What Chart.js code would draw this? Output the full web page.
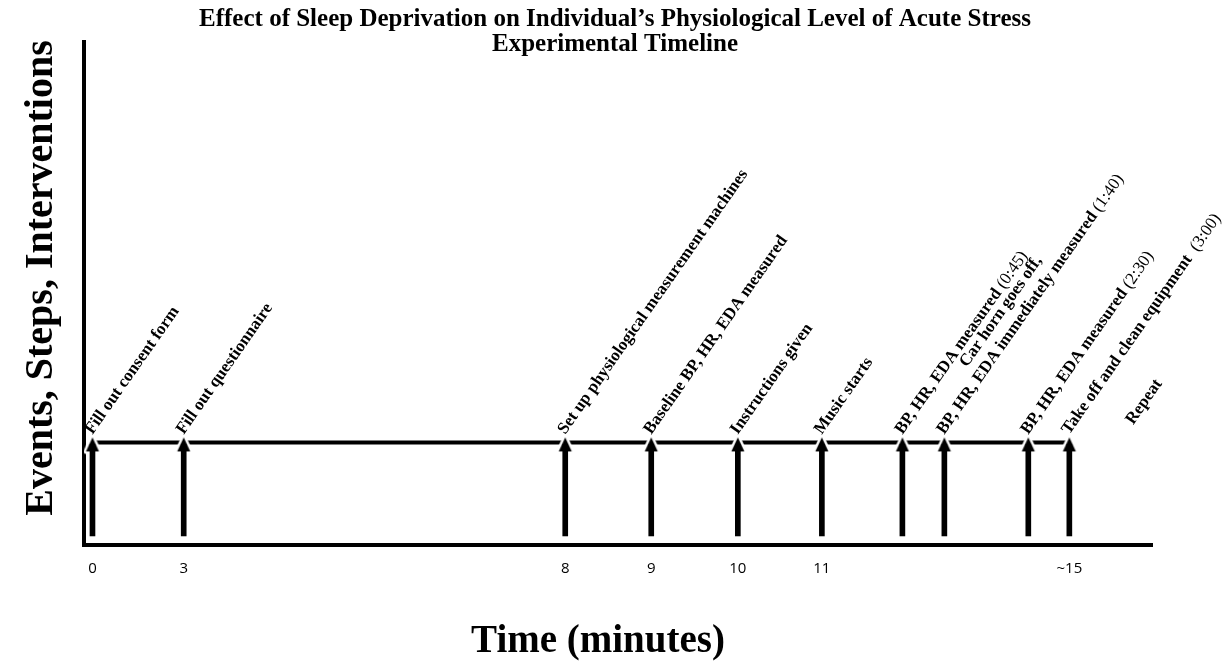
<!DOCTYPE html>
<html>
<head>
<meta charset="utf-8">
<script src="https://cdn.jsdelivr.net/npm/chart.js@4.4.1/dist/chart.umd.min.js"></script>
<style>
  html, body { margin: 0; padding: 0; background: #fff; }
  #wrap { width: 1226px; height: 664px; position: relative; }
</style>
</head>
<body>
<div id="wrap"><canvas id="timeline"></canvas></div>
<script>
// events on the timeline, position = where the arrow sits along the drawn axis
const eventText = [
  'Fill out consent form',
  'Fill out questionnaire',
  'Set up physiological measurement machines',
  'Baseline BP, HR, EDA measured',
  'Instructions given',
  'Music starts',
  'BP, HR, EDA measured',
  'BP, HR, EDA immediately measured',
  'BP, HR, EDA measured',
  'Take off and clean equipment'
];
const eventTime = ['', '', '', '', '', '', ' (0:45)', ' (1:40)', ' (2:30)', '  (3:00)'];
const eventNote = ['', '', '', '', '', '', '', 'Car horn goes off,', '', ''];
const eventPos = [0, 1.065, 5.519, 6.523, 7.534, 8.515, 9.455, 9.945, 10.925, 11.404];

const tickPos = [0, 1.065, 5.519, 6.523, 7.534, 8.515, 11.404];
const tickLabels = ['0', '3', '8', '9', '10', '11', '~15'];

const repeatText = 'Repeat';
const repeatPos = 12.15;

const mainTitle = ['Effect of Sleep Deprivation on Individual\u2019s Physiological Level of Acute Stress', 'Experimental Timeline'];
const xTitle = 'Time (minutes)';
const yTitle = 'Events, Steps, Interventions';

// vertical levels on the hidden y scale (0..5)
const LINE_Y = 1.02;
const HEAD_Y = 1.0;
const BASE_Y = 0.09;
const LABEL_Y = 1.093;
const REPEAT_Y = 1.19;

const SERIF = '"Liberation Serif", "Times New Roman", serif';
const ANGLE = 55 * Math.PI / 180;
const LABEL_DX = 0;

// arrow head with a thin white halo so the timeline looks broken around it
function arrowHead() {
  const c = document.createElement('canvas');
  c.width = 24; c.height = 24;
  const g = c.getContext('2d');
  g.beginPath();
  g.moveTo(12, 5);
  g.lineTo(18.5, 19);
  g.lineTo(5.5, 19);
  g.closePath();
  g.lineJoin = 'round';
  g.strokeStyle = '#fff';
  g.lineWidth = 5;
  g.stroke();
  g.fillStyle = '#000';
  g.fill();
  return c;
}

const textLayer = {
  id: 'textLayer',
  afterDatasetsDraw(chart) {
    const {ctx, scales: {x, y}} = chart;
    const bold = 'bold 17px ' + SERIF;
    const plain = '17px ' + SERIF;
    ctx.save();
    ctx.fillStyle = '#000';
    ctx.textAlign = 'left';
    ctx.textBaseline = 'alphabetic';

    eventText.forEach((txt, i) => {
      ctx.save();
      ctx.translate(x.getPixelForValue(eventPos[i]) + LABEL_DX, y.getPixelForValue(LABEL_Y));
      ctx.rotate(-ANGLE);
      ctx.font = bold;
      ctx.fillText(txt, 0, 0);
      const w = ctx.measureText(txt).width;
      if (eventNote[i]) {
        const w1 = ctx.measureText(eventNote[i]).width;
        ctx.fillText(eventNote[i], (w - w1) / 2, -20);
      }
      if (eventTime[i]) {
        ctx.font = plain;
        ctx.fillText(eventTime[i], w, 0);
      }
      ctx.restore();
    });

    ctx.save();
    ctx.translate(x.getPixelForValue(repeatPos) + LABEL_DX, y.getPixelForValue(REPEAT_Y));
    ctx.rotate(-ANGLE);
    ctx.font = bold;
    ctx.fillText(repeatText, 0, 0);
    ctx.restore();

    // titles
    ctx.textAlign = 'center';
    ctx.font = 'bold 25px ' + SERIF;
    ctx.fillText(mainTitle[0], 615, 26);
    ctx.fillText(mainTitle[1], 615, 51);

    ctx.font = 'bold 39px ' + SERIF;
    ctx.fillText(xTitle, 598, 652);

    ctx.save();
    ctx.translate(52, 278);
    ctx.rotate(-Math.PI / 2);
    ctx.font = 'bold 40px ' + SERIF;
    ctx.fillText(yTitle, 0, 0);
    ctx.restore();

    ctx.restore();
  }
};

new Chart(document.getElementById('timeline'), {
  data: {
    datasets: [
      {
        type: 'line',
        data: [{x: eventPos[0], y: LINE_Y}, {x: eventPos[eventPos.length - 1], y: LINE_Y}],
        borderColor: '#000',
        borderWidth: 4,
        pointRadius: 0,
        order: 3
      },
      {
        type: 'scatter',
        data: eventPos.map(p => ({x: p, y: HEAD_Y})),
        pointStyle: arrowHead(),
        pointRadius: 6,
        order: 2
      },
      {
        type: 'bar',
        data: eventPos.map(p => ({x: p, y: [BASE_Y, HEAD_Y]})),
        backgroundColor: '#000',
        barThickness: 5,
        grouped: false,
        order: 1
      }
    ]
  },
  options: {
    responsive: true,
    maintainAspectRatio: false,
    animation: false,
    events: [],
    layout: { padding: { top: 42, right: 74, bottom: 0, left: 0 } },
    plugins: {
      legend: { display: false },
      title: { display: false },
      tooltip: { enabled: false }
    },
    scales: {
      x: {
        type: 'linear',
        offset: false,
        min: -0.099,
        max: 12.369,
        grid: { display: false, drawTicks: false, offset: false },
        border: { display: true, color: '#000', width: 4 },
        afterBuildTicks: s => { s.ticks = tickPos.map(v => ({value: v})); },
        afterFit: s => { s.height = 119; },
        ticks: {
          autoSkip: false,
          maxRotation: 0,
          padding: 15,
          color: '#000',
          font: { family: '"Open Sans", sans-serif', size: 15 },
          callback: (v, i) => tickLabels[i]
        }
      },
      y: {
        type: 'linear',
        min: 0,
        max: 5,
        grid: { display: false, drawTicks: false },
        border: { display: true, color: '#000', width: 4 },
        ticks: { display: false },
        afterFit: s => { s.width = 84; }
      }
    }
  },
  plugins: [textLayer]
});
</script>
</body>
</html>
